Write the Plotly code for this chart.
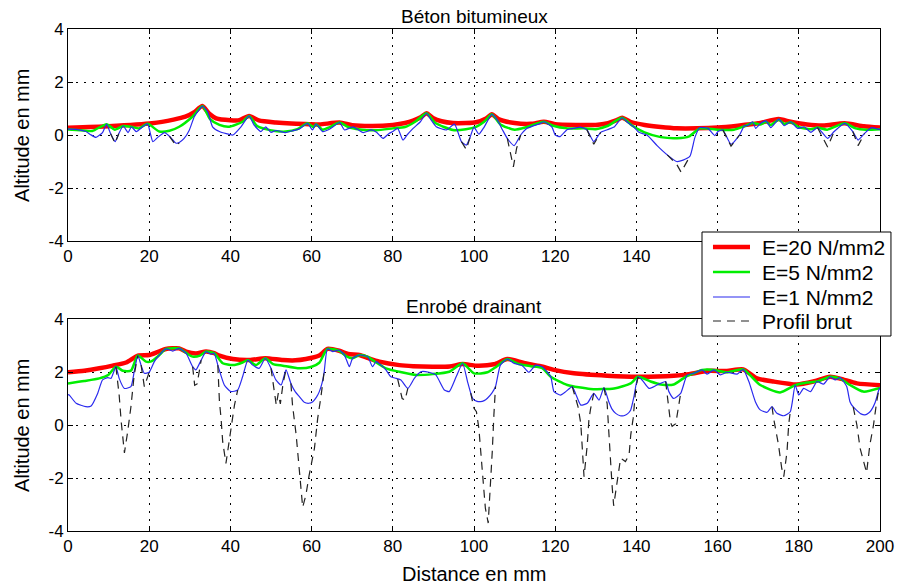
import plotly.graph_objects as go
from plotly.subplots import make_subplots

# ---- axes
x_ticks = [0, 20, 40, 60, 80, 100, 120, 140, 160, 180, 200]
x_ticklabels = ["0", "20", "40", "60", "80", "100", "120", "140", "160", "180", "200"]
x_ticklabels_haut = ["0", "20", "40", "60", "80", "100", "120", "140", "", "", ""]  # 160-200 sous la légende
y_ticks = [-4, -2, 0, 2, 4]
y_ticklabels = ["-4", "-2", "0", "2", "4"]
noms = ["E=20 N/mm2", "E=5 N/mm2", "E=1 N/mm2", "Profil brut"]

# ---- Béton bitumineux (haut)
bb_x_e20 = [0, 10, 20.7, 26, 28.9, 31, 33.1, 34.8, 36.5, 40, 42.2, 44.6, 47, 51.2, 55, 59.4, 62, 66.9, 70, 75,
            80, 83, 85, 87, 88.3, 90, 92, 94.8, 98, 100.5, 103, 104.4, 106, 110, 114, 117.2, 120, 125, 130, 133,
            135, 136.5, 138.5, 142, 146, 150, 155, 160, 165, 170, 175, 178, 182, 186, 191.3, 196, 200]
bb_e20 = [0.27, 0.33, 0.44, 0.58, 0.69, 0.85, 1.09, 0.8, 0.63, 0.56, 0.56, 0.72, 0.55, 0.47, 0.43, 0.41, 0.4, 0.47, 0.37, 0.34,
          0.38, 0.45, 0.54, 0.68, 0.82, 0.63, 0.52, 0.45, 0.45, 0.48, 0.62, 0.78, 0.6, 0.45, 0.42, 0.5, 0.41, 0.38, 0.38, 0.45,
          0.55, 0.65, 0.5, 0.38, 0.3, 0.25, 0.25, 0.28, 0.35, 0.44, 0.6, 0.5, 0.4, 0.36, 0.44, 0.33, 0.28]

bb_x_e5 = [0, 3, 6, 9.5, 11.5, 13.6, 15.6, 17.5, 19.6, 22.5, 25, 27.4, 30.7, 33.1, 35, 37.3, 39.7, 43, 44.6, 46.5,
           48.7, 51, 53.6, 56.5, 59, 60.5, 61.1, 62.7, 64.5, 66.9, 69, 71.9, 76, 80, 83, 85.5, 88.3, 90.5, 94.8, 98,
           100.5, 102.5, 104.4, 106.5, 110, 113, 117.2, 119.5, 123, 127, 130, 133, 136.5, 139, 142, 146, 150, 153, 155.6, 160,
           164, 166.6, 168.6, 170.6, 171.9, 173.1, 175.1, 176.4, 178, 180, 183, 184.6, 187, 191.3, 194, 196.5, 200]
bb_e5 = [0.21, 0.18, 0.15, 0.41, 0.2, 0.34, 0.31, 0.25, 0.42, 0.13, 0.16, 0.31, 0.7, 1.09, 0.6, 0.38, 0.31, 0.5, 0.72, 0.35,
         0.22, 0.15, 0.13, 0.22, 0.44, 0.3, 0.41, 0.2, 0.3, 0.47, 0.3, 0.21, 0.18, 0.25, 0.3, 0.5, 0.82, 0.45, 0.19, 0.22,
         0.31, 0.5, 0.78, 0.4, 0.2, 0.3, 0.5, 0.35, 0.25, 0.25, 0.22, 0.35, 0.65, 0.35, 0.1, -0.08, -0.12, -0.05, 0.25, 0.2,
         0.2, 0.33, 0.45, 0.4, 0.5, 0.38, 0.58, 0.42, 0.48, 0.3, 0.22, 0.28, 0.2, 0.44, 0.25, 0.2, 0.22]

bb_x_e1 = [0, 2, 4.4, 5.5, 6.9, 8.5, 9.5, 10.5, 11.6, 12.5, 13.6, 14.8, 15.6, 16.8, 18.4, 19.6, 20.3, 20.9, 22.1, 23.8,
           25, 26.6, 27.4, 28.6, 29.9, 31.1, 32.3, 33.1, 34.4, 35.6, 37.3, 39, 40.6, 42.6, 44.6, 45.8, 47.5, 48.7, 50, 51.2,
           53.6, 55, 56.9, 59, 60.2, 61.1, 62.7, 64.4, 65.6, 66.9, 68.1, 70.2, 72.7, 74.7, 76, 77.6, 79, 80, 81.2, 82.5,
           83.5, 85, 86.8, 88.3, 89.5, 90.7, 93.2, 95.2, 96.9, 98.1, 99, 100, 101.2, 102.5, 104.4, 105.8, 107, 108.2, 109.9, 111.5,
           113.1, 116.4, 117.2, 119.2, 120, 121.2, 122.9, 124.5, 126.2, 127.8, 129.5, 131.2, 132.8, 134.5, 136.5, 138, 139.4, 140.6, 142.6, 145.1,
           147.6, 149.9, 151.5, 153.2, 154.4, 155.6, 157.6, 159.3, 160.1, 161.3, 163.3, 165.4, 166.6, 167.4, 168.6, 169.4, 170.6, 171.9, 173.1, 175.1,
           176.4, 178, 179.7, 181.3, 183, 184.6, 187.1, 188.7, 191.3, 193.3, 194.6, 196.2, 197.9, 200]
bb_e1 = [0.22, 0.21, 0.13, 0.02, -0.09, 0.09, 0.41, 0.05, -0.25, 0.05, 0.34, 0.09, 0.31, 0.13, 0.31, 0.42, 0.05, -0.25, -0.09, 0.09,
         -0.05, -0.31, -0.28, -0.13, 0.19, 0.69, 0.95, 1.09, 0.88, 0.31, 0.13, 0.05, 0.0, 0.31, 0.72, 0.38, 0.13, 0.31, 0.1, 0.17,
         0.09, 0.15, 0.22, 0.44, 0.19, 0.41, 0.13, 0.22, 0.35, 0.47, 0.19, 0.31, 0.09, 0.19, 0.1, -0.13, 0.05, 0.13, 0.25, -0.19,
         0.0, 0.25, 0.5, 0.82, 0.55, 0.31, 0.19, 0.41, -0.25, -0.38, -0.1, 0.3, 0.03, 0.3, 0.78, 0.55, 0.2, -0.13, -0.4, 0.0,
         0.25, 0.44, 0.5, 0.3, 0.0, -0.06, 0.2, 0.25, 0.3, 0.2, -0.25, 0.1, 0.2, 0.3, 0.65, 0.45, 0.3, 0.1, 0.0, -0.4,
         -0.75, -1.0, -0.95, -0.8, -0.1, 0.28, 0.25, -0.02, 0.13, 0.19, -0.35, 0.0, 0.35, 0.35, 0.5, 0.25, 0.44, 0.53, 0.28, 0.6,
         0.35, 0.5, 0.25, 0.31, 0.1, 0.28, -0.13, 0.13, 0.44, 0.13, -0.19, 0.06, 0.28, 0.2]

# profil brut : creux visibles sous la courbe E=1 (None = hors creux)
bb_x_brut = [10.5, 11.6, 12.5, None, 25, 26.6, 27.4, None, 96.9, 98.1, 99, None, 108.2, 109.3, 109.7, 110.5, 111.5, None,
             127.8, 129.5, 131.2, None, 147.6, 149.9, 151, 152, 153.2, None, 161.3, 163.3, 165.4, None,
             184.6, 187.1, 188.7, None, 193.3, 194.6, 196.2]
bb_brut = [0.05, -0.31, 0.05, None, -0.05, -0.4, -0.3, None, -0.25, -0.55, -0.1, None, -0.13, -0.9, -1.2, -0.5, 0.0, None,
           0.2, -0.35, 0.1, None, -0.75, -1.1, -1.4, -1.1, -0.8, None, 0.19, -0.42, 0.0, None,
           0.28, -0.45, 0.13, None, 0.13, -0.4, 0.06]

# ---- Enrobé drainant (bas)
ed_x_e20 = [0, 4, 7.7, 11, 14.3, 17.2, 20, 22, 24.1, 27.4, 29.1, 31.5, 34, 36, 37.3, 40.6, 44.7, 48.6, 52.9, 56,
            58.6, 61.9, 63.9, 66.8, 69, 71.8, 74, 76.7, 81.6, 85, 89.8, 94, 97.2, 100.5, 104.9, 108.2, 112.3, 116.4, 119.7, 124.6,
            132.8, 140.2, 149.2, 153.3, 157.4, 162.3, 166.3, 169.7, 173.8, 179.5, 183.6, 187.7, 190.2, 194.3, 200]
ed_e20 = [1.99, 2.05, 2.14, 2.24, 2.36, 2.62, 2.64, 2.75, 2.87, 2.89, 2.77, 2.7, 2.77, 2.71, 2.62, 2.49, 2.45, 2.52, 2.45, 2.44,
          2.49, 2.62, 2.87, 2.8, 2.68, 2.64, 2.52, 2.39, 2.26, 2.22, 2.2, 2.21, 2.3, 2.24, 2.29, 2.49, 2.34, 2.22, 2.08, 1.95,
          1.86, 1.82, 1.86, 1.93, 2.04, 2.04, 2.1, 1.76, 1.64, 1.53, 1.64, 1.82, 1.75, 1.57, 1.5]

ed_x_e5 = [0, 4, 7.7, 10, 11.8, 13.5, 15.5, 17.2, 19.2, 20.5, 22.5, 24.1, 27.4, 29.1, 30.7, 32.5, 34, 36, 38.1, 40.6,
           43, 44.3, 46.3, 48.6, 50.5, 52.9, 57, 60, 61.9, 63.9, 66.8, 68.5, 70.1, 71.8, 73.8, 75.5, 78.3, 81.6, 85.7, 89.8,
           93.9, 97.2, 100, 103.3, 105.5, 108.2, 111, 114, 116.8, 118.9, 123, 128.7, 134.5, 138.6, 140.4, 143.5, 146, 149.2, 152.1, 154.1,
           156.2, 159.1, 162.3, 166.3, 170.5, 175.4, 179.1, 182, 184.5, 187.7, 190.2, 192.6, 195.9, 200]
ed_e5 = [1.57, 1.66, 1.76, 1.9, 2.2, 2.05, 2.05, 2.62, 2.39, 2.4, 2.64, 2.87, 2.89, 2.72, 2.58, 2.62, 2.77, 2.71, 2.33, 2.26,
         2.36, 2.45, 2.26, 2.52, 2.3, 2.24, 2.14, 2.2, 2.35, 2.87, 2.8, 2.6, 2.52, 2.64, 2.58, 2.4, 2.14, 2.01, 1.89, 1.92,
         2.01, 2.33, 1.95, 1.99, 2.2, 2.49, 2.3, 2.22, 2.15, 1.82, 1.51, 1.36, 1.38, 1.57, 1.82, 1.64, 1.53, 1.53, 1.82, 1.95,
         2.08, 2.08, 1.99, 2.1, 1.51, 1.23, 1.5, 1.6, 1.64, 1.82, 1.75, 1.51, 1.26, 1.4]

ed_x_e1 = [0, 0.3, 2, 4.4, 5.7, 7.3, 8.5, 9.8, 10.6, 11.8, 12.6, 13.9, 15.5, 16.3, 17.2, 18, 18.8, 20, 21.3, 22.5,
           24.1, 25.8, 27.4, 29.1, 30.7, 31.5, 32.8, 34, 35.2, 36, 36.9, 38.5, 40.1, 41.8, 43, 44.3, 45.5, 47.1, 48.6, 50,
           51.2, 52.5, 53.7, 54.9, 56, 57, 58.2, 59.3, 60.3, 61.2, 61.9, 62.6, 63.1, 63.9, 65.2, 66.8, 68.1, 69.3, 70.1, 71.8,
           73.8, 75, 75.9, 77.1, 78.3, 79.5, 80.8, 82, 83.7, 85.3, 86.9, 88.9, 90.6, 92.7, 93.9, 95.6, 97.2, 98.4, 99.2, 99.7,
           100.6, 101.6, 102.5, 103.3, 104.4, 105.3, 106.5, 108.2, 109.8, 111.9, 113.5, 115.2, 116.8, 118.9, 119.7, 121.3, 122.6, 124.2, 125, 126.3,
           127.9, 129.5, 130.8, 132, 133.2, 134, 134.9, 136, 136.9, 137.8, 138.6, 139.4, 140.4, 141.4, 143.1, 145.1, 147.2, 148, 149.2, 150.9,
           152.5, 154.1, 156.2, 157.4, 159.1, 160.7, 162.3, 164.8, 166.3, 167.7, 169.3, 170.5, 172.2, 173.4, 174.6, 176.3, 177.9, 179.1, 180, 181.2,
           182.9, 184.5, 186.1, 187.7, 189, 190.2, 191.8, 192.6, 193.4, 194.3, 195.3, 196.3, 197.2, 197.9, 198.8, 199.7, 200]
ed_e1 = [1.15, 1.13, 0.82, 0.69, 0.72, 1.19, 1.7, 1.79, 1.76, 2.2, 1.76, 1.38, 1.45, 2.01, 2.62, 2.26, 1.95, 1.99, 2.4, 2.64,
         2.87, 2.79, 2.89, 2.7, 2.2, 2.08, 2.45, 2.77, 2.67, 2.71, 2.26, 1.51, 1.26, 1.32, 1.82, 2.45, 2.26, 2.14, 2.52, 2.14,
         1.7, 1.51, 2.08, 1.57, 1.25, 1.07, 0.86, 0.82, 0.88, 1.05, 1.26, 1.6, 2.01, 2.87, 2.77, 2.83, 2.64, 2.2, 2.52, 2.64,
         2.58, 2.2, 2.39, 2.26, 2.08, 1.82, 1.76, 1.7, 1.38, 1.76, 2.01, 1.99, 1.89, 1.32, 1.26, 1.82, 2.33, 1.64, 1.2, 1.0,
         0.9, 0.88, 0.92, 1.01, 1.2, 1.45, 2.26, 2.49, 2.33, 2.24, 1.99, 2.26, 2.2, 1.82, 1.26, 1.13, 1.26, 1.45, 1.19, 0.75,
         0.82, 1.19, 0.94, 1.41, 0.88, 0.6, 0.44, 0.35, 0.35, 0.42, 0.57, 1.07, 1.82, 1.7, 1.38, 1.51, 1.64, 1.26, 1.0, 1.19,
         1.89, 1.95, 2.08, 1.92, 2.08, 1.89, 1.99, 1.92, 2.1, 1.64, 0.88, 0.57, 0.48, 0.69, 0.44, 0.35, 0.5, 1.51, 1.13, 1.38,
         1.26, 1.64, 1.54, 1.82, 1.7, 1.79, 1.45, 0.88, 0.68, 0.55, 0.42, 0.38, 0.45, 0.57, 0.85, 1.32, 1.4]

ed_x_brut = [11.8, 12.6, 13.1, 13.9, 14.7, 15.5, 16.3, 17.2, None, 18, 18.8, 20, None, 30.7, 31.2, 31.8, 32.8, None,
             36.9, 37.3, 37.7, 38.1, 38.9, 39.7, 40.4, 41, 41.8, None, 50, 51.3, 51.8, 52.3, 53, 53.7, None,
             54.9, 55.3, 56.2, 57, 57.4, 57.8, 58.6, 59.4, 60.7, 61.5, 62.3, 63.1, None, 81.2, 82.3, 83, 83.7, None,
             99.2, 100, 100.6, 101.2, 102, 102.8, 103.5, 104.1, 104.5, 104.9, 105.3, None,
             124.2, 125.6, 126.3, 126.7, 127.1, 127.9, 128.3, 128.7, 129.5, None,
             132, 132.8, 133.2, 133.6, 134, 134.4, 135.3, 136.1, 136.6, 137.3, 138.2, 138.6, 139.2, 139.8, 140.4, None,
             147.2, 148.4, 148.8, 149.2, 149.7, 150.9, None, 173.4, 173.8, 175, 175.8, 176.3, 177.1, 177.5, 177.9, None,
             193.4, 194.3, 195.1, 196.3, 196.7, 197.5, 198.4, 199.2, 199.7]
ed_brut = [2.2, 1.13, 0.13, -1.05, -0.25, 0.69, 1.89, 2.62, None, 2.26, 1.45, 1.99, None, 2.2, 1.5, 1.55, 2.45, None,
           2.26, 0.88, 0.25, -0.63, -1.45, -0.63, 0.25, 0.75, 1.32, None, 2.14, 0.75, 1.2, 0.8, 1.6, 2.08, None,
           1.57, 0.75, -0.38, -1.64, -2.52, -3.1, -2.64, -1.89, -0.88, 0.25, 1.07, 2.01, None, 1.73, 1.0, 0.94, 1.38, None,
           1.2, 0.63, 0.5, -0.13, -1.64, -3.14, -3.7, -2.26, -1.0, 0.38, 1.45, None,
           1.45, 0.7, 0.06, -0.88, -1.95, -0.75, 0.19, 0.6, 1.19, None,
           1.41, 0.8, -0.25, -1.38, -2.26, -3.05, -2.14, -1.26, -1.3, -1.38, -1.13, -0.38, 0.25, 1.3, 1.82, None,
           1.64, 0.1, -0.05, 0.0, 0.05, 1.19, None, 0.69, 0.25, -0.75, -1.64, -1.95, -1.0, 0.0, 0.5, None,
           0.68, 0.0, -0.88, -1.64, -1.8, -0.75, 0.0, 0.9, 1.32]

styles = [dict(color="#ff0000", width=4.5, shape="spline", smoothing=0.6),
          dict(color="#00ee00", width=2.5, shape="spline", smoothing=0.6),
          dict(color="#2a2aee", width=1.2, shape="spline", smoothing=0.5),
          dict(color="#222222", width=1.2, dash="8px,6px")]

fig = make_subplots(rows=2, cols=1)

panneaux = [
    (1, [(bb_x_e20, bb_e20), (bb_x_e5, bb_e5), (bb_x_e1, bb_e1), (bb_x_brut, bb_brut)]),
    (2, [(ed_x_e20, ed_e20), (ed_x_e5, ed_e5), (ed_x_e1, ed_e1), (ed_x_brut, ed_brut)]),
]
for row, series in panneaux:
    for (xs, ys), nom, st in zip(series, noms, styles):
        fig.add_trace(go.Scatter(x=xs, y=ys, mode="lines", name=nom, showlegend=False,
                                 connectgaps=False, line=st), row=row, col=1)

police = "Liberation Sans, Arial, Helvetica, sans-serif"
axe = dict(showline=True, linecolor="black", linewidth=1, mirror="ticks", ticks="inside", ticklen=5,
           tickcolor="black", showgrid=True, gridcolor="black", gridwidth=1, griddash="2px,6px",
           zeroline=False, automargin=False, tickfont=dict(size=17, color="black", family=police))
for i, labels in ((1, x_ticklabels_haut), (2, x_ticklabels)):
    fig.update_xaxes(axe, range=[0, 200], tickvals=x_ticks, ticktext=labels, row=i, col=1)
    fig.update_yaxes(axe, range=[-4, 4], tickvals=y_ticks, ticktext=y_ticklabels, row=i, col=1)

# légende façon MATLAB (cadre serré), en coordonnées papier
leg_x0, leg_x1, leg_y0, leg_y1 = 0.7808, 1.0135, 0.3884, 0.5956
leg_rows = [0.5657, 0.5159, 0.4661, 0.4183]
shapes = [dict(type="rect", xref="paper", yref="paper", x0=leg_x0, x1=leg_x1, y0=leg_y0, y1=leg_y1,
               fillcolor="white", line=dict(color="black", width=1), layer="above")]
annotations = []
for yr, nom, st in zip(leg_rows, noms, styles):
    shapes.append(dict(type="line", xref="paper", yref="paper", x0=0.7943, x1=0.8399, y0=yr, y1=yr,
                       layer="above", line=dict(color=st["color"], width=st["width"], dash=st.get("dash", "solid"))))
    annotations.append(dict(text=nom, xref="paper", yref="paper", x=0.8522, y=yr, xanchor="left",
                            yanchor="middle", showarrow=False, font=dict(size=21)))

annotations += [
    dict(text="Béton bitumineux", xref="x domain", yref="y domain", x=0.5, y=1, yanchor="bottom",
         showarrow=False, font=dict(size=19)),
    dict(text="Enrobé drainant", xref="x2 domain", yref="y2 domain", x=0.5, y=1, yanchor="bottom",
         showarrow=False, font=dict(size=19)),
    dict(text="Altitude en mm", xref="paper", yref="y domain", x=-0.0567, y=0.5, textangle=-90,
         xanchor="center", showarrow=False, font=dict(size=20)),
    dict(text="Altitude en mm", xref="paper", yref="y2 domain", x=-0.0567, y=0.5, textangle=-90,
         xanchor="center", showarrow=False, font=dict(size=20)),
    dict(text="Distance en mm", xref="paper", yref="paper", x=0.5, y=-0.0857, yanchor="middle",
         showarrow=False, font=dict(size=20)),
]

fig.update_layout(
    width=899, height=586,
    margin=dict(l=68, r=19, t=29, b=55),
    paper_bgcolor="white", plot_bgcolor="white",
    font=dict(family=police, size=18, color="black"),
    yaxis=dict(domain=[0.5777, 1.0]),
    yaxis2=dict(domain=[0.0, 0.4223]),
    showlegend=False,
    shapes=shapes,
    annotations=annotations,
)

# pas de marge de page autour du graphique
fig.write_html("out.html", config={"displayModeBar": False},
               post_script="document.body.style.margin='0';")
